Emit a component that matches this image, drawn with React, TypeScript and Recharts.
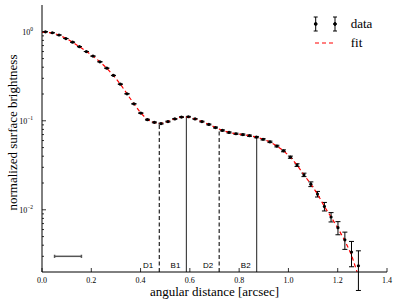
import React from 'react'
import { ComposedChart, Scatter, Line, XAxis, YAxis, ErrorBar, ReferenceLine, Legend, Label } from 'recharts'

// radial profile samples
const distance = [
  0.014, 0.042, 0.069, 0.097, 0.124, 0.152, 0.18, 0.207, 0.235, 0.263,
  0.29, 0.318, 0.345, 0.373, 0.401, 0.428, 0.456, 0.483, 0.511, 0.539,
  0.566, 0.594, 0.621, 0.649, 0.677, 0.704, 0.732, 0.759, 0.787, 0.815,
  0.842, 0.87, 0.897, 0.925, 0.953, 0.98, 1.008, 1.035, 1.063, 1.091,
  1.118, 1.146, 1.173, 1.201, 1.229, 1.256, 1.284,
]
const brightness = [
  1.0, 0.975, 0.92, 0.84, 0.765, 0.68, 0.6, 0.533, 0.46, 0.39,
  0.323, 0.258, 0.201, 0.155, 0.122, 0.103, 0.096, 0.093, 0.098, 0.105,
  0.11, 0.111, 0.105, 0.098, 0.091, 0.084, 0.078, 0.074, 0.0715, 0.07,
  0.068, 0.0656, 0.062, 0.058, 0.052, 0.046, 0.039, 0.0318, 0.0247, 0.0194,
  0.015, 0.0109, 0.0083, 0.0063, 0.0046, 0.00335, 0.00235,
]
const brightnessErr = [
  0.0011, 0.0011, 0.0011, 0.0011, 0.0011, 0.0011, 0.0011, 0.0011, 0.0011, 0.0011,
  0.0011, 0.0011, 0.0011, 0.0011, 0.0011, 0.0011, 0.0011, 0.0011, 0.0011, 0.0011,
  0.0011, 0.0011, 0.0011, 0.0011, 0.0011, 0.0011, 0.0011, 0.0011, 0.0011, 0.0011,
  0.0011, 0.0011, 0.0011, 0.0011, 0.0011, 0.0011, 0.0011, 0.0011, 0.0011, 0.00118,
  0.00108, 0.0012, 0.001, 0.00106, 0.00101, 0.00106, 0.00111,
]

// model curve
const fitDistance = [
  0.0, 0.014, 0.042, 0.069, 0.097, 0.124, 0.152, 0.18, 0.207, 0.235, 0.263,
  0.29, 0.318, 0.345, 0.373, 0.401, 0.428, 0.456, 0.483, 0.511, 0.539,
  0.566, 0.594, 0.621, 0.649, 0.677, 0.704, 0.732, 0.759, 0.787, 0.815,
  0.842, 0.87, 0.897, 0.925, 0.953, 0.98, 1.008, 1.035, 1.063, 1.091,
  1.118, 1.146, 1.173, 1.201, 1.229, 1.256, 1.284,
]
const fitBrightness = [
  0.99, 0.985, 0.97, 0.92, 0.845, 0.765, 0.68, 0.6, 0.533, 0.46, 0.39,
  0.323, 0.258, 0.201, 0.155, 0.122, 0.103, 0.095, 0.093, 0.098, 0.105,
  0.11, 0.11, 0.105, 0.098, 0.091, 0.084, 0.078, 0.074, 0.0715, 0.07,
  0.068, 0.0656, 0.062, 0.058, 0.052, 0.046, 0.039, 0.0318, 0.0247, 0.0194,
  0.015, 0.0109, 0.0083, 0.0062, 0.0045, 0.0031, 0.0018,
]

// component positions (arcsec) and how high the marker reaches
const componentNames = ['D1', 'B1', 'D2', 'B2']
const componentPos = [0.476, 0.586, 0.719, 0.871]
const componentTop = [0.093, 0.11, 0.08, 0.067]

// resolution bar
const beamCenter = 0.1055
const beamHalf = 0.0545
const beamLevel = 0.003

const xTicks = [0, 0.2, 0.4, 0.6, 0.8, 1.0, 1.2, 1.4]
const yTicks = [
  0.003, 0.004, 0.005, 0.006, 0.007, 0.008, 0.009,
  0.01, 0.02, 0.03, 0.04, 0.05, 0.06, 0.07, 0.08, 0.09,
  0.1, 0.2, 0.3, 0.4, 0.5, 0.6, 0.7, 0.8, 0.9, 1,
]

const points = distance.map((x, i) => ({ x, y: brightness[i], err: brightnessErr[i] }))
const fit = fitDistance.map((x, i) => ({ x, y: fitBrightness[i] }))
const beam = [{ x: beamCenter, y: beamLevel, xerr: beamHalf }]

const SERIF = "'Liberation Serif', 'Times New Roman', serif"
const SANS = "'Liberation Sans', Arial, sans-serif"

const isDecade = (v: number) => Math.abs(Math.log10(v) - Math.round(Math.log10(v))) < 1e-6

const BottomTick = ({ x, y, payload }: any) => (
  <g>
    <line x1={x} x2={x} y1={y} y2={y - 4} stroke="#000" strokeWidth={0.8} />
    <text x={x} y={y + 11} textAnchor="middle" fontSize={8} fontFamily={SERIF} fill="#000">
      {payload.value.toFixed(1)}
    </text>
  </g>
)

const TopTick = ({ x, y }: any) => <line x1={x} x2={x} y1={y} y2={y + 4} stroke="#000" strokeWidth={0.8} />

const LeftTick = ({ x, y, payload }: any) => {
  const major = isDecade(payload.value)
  const exp = Math.round(Math.log10(payload.value))
  return (
    <g>
      <line x1={x} x2={x + (major ? 4 : 2)} y1={y} y2={y} stroke="#000" strokeWidth={0.8} />
      {major && (
        <text x={x - 9} y={y + 3.5} textAnchor="end" fontSize={8} fontFamily={SERIF} fill="#000">
          10
          <tspan dy={-4} fontSize={5.5}>{exp < 0 ? `\u2212${-exp}` : `${exp}`}</tspan>
        </text>
      )}
    </g>
  )
}

const RightTick = ({ x, y, payload }: any) => (
  <line x1={x} x2={x - (isDecade(payload.value) ? 4 : 2)} y1={y} y2={y} stroke="#000" strokeWidth={0.8} />
)

const YTitle = ({ viewBox }: any) => {
  const cx = viewBox.x + 12
  const cy = viewBox.y + viewBox.height / 2 - 6
  return (
    <text x={cx} y={cy} transform={`rotate(-90 ${cx} ${cy})`} textAnchor="middle" dominantBaseline="central"
      fontSize={13} fontFamily={SERIF} fill="#000">
      normalized surface brightness
    </text>
  )
}

const LegendBox = ({ payload }: any) => {
  const entries = (payload || []).filter((e: any) => e.value === 'data' || e.value === 'fit')
  return (
    <svg width={80} height={46} style={{ display: 'block' }}>
      {entries.map((e: any, i: number) => {
        const cy = 14 + i * 19
        return (
          <g key={e.value}>
            {e.type === 'line' ? (
              <line x1={10} x2={31} y1={cy} y2={cy} stroke="#ff0000" strokeWidth={1.2} strokeDasharray="4 3" />
            ) : (
              [10.7, 30].map((gx) => (
                <g key={gx} stroke="#000" strokeWidth={1}>
                  <line x1={gx} x2={gx} y1={cy - 7} y2={cy + 7} />
                  <line x1={gx - 2} x2={gx + 2} y1={cy - 7} y2={cy - 7} />
                  <line x1={gx - 2} x2={gx + 2} y1={cy + 7} y2={cy + 7} />
                  <circle cx={gx} cy={cy} r={1.4} fill="#000" />
                </g>
              ))
            )}
            <text x={45.7} y={cy + 4} fontSize={13} fontFamily={SERIF} fill="#000">{e.value}</text>
          </g>
        )
      })}
    </svg>
  )
}

export default function App() {
  return (
    <div style={{ position: 'absolute', left: 0, top: 0, width: 399, height: 308, background: '#fff' }}>
      <ComposedChart width={399} height={308} margin={{ top: 5, right: 12, bottom: 0, left: 0 }}>
        <XAxis dataKey="x" type="number" domain={[0, 1.4]} ticks={xTicks} allowDataOverflow interval={0}
          height={36} tickSize={0} tickMargin={0} tickLine={false} axisLine={{ stroke: '#000' }} tick={<BottomTick />}>
          <Label value="angular distance [arcsec]" position="insideBottom" offset={12} fill="#000"
            style={{ fontFamily: SERIF, fontSize: 13 }} />
        </XAxis>
        <XAxis xAxisId="top" orientation="top" dataKey="x" type="number" domain={[0, 1.4]} ticks={xTicks}
          allowDataOverflow interval={0} height={0} tickSize={0} tickMargin={0} tickLine={false}
          axisLine={{ stroke: '#000' }} tick={<TopTick />} />
        <YAxis dataKey="y" scale="log" domain={[0.002, 2]} ticks={yTicks} allowDataOverflow interval={0}
          width={42} tickSize={0} tickMargin={0} tickLine={false} axisLine={{ stroke: '#000' }} tick={<LeftTick />}>
          <Label content={<YTitle />} />
        </YAxis>
        <YAxis yAxisId="right" orientation="right" dataKey="y" scale="log" domain={[0.002, 2]} ticks={yTicks}
          allowDataOverflow interval={0} width={0} tickSize={0} tickMargin={0} tickLine={false}
          axisLine={{ stroke: '#000' }} tick={<RightTick />} />

        {componentNames.map((name, i) => {
          const dashed = name.startsWith('D')
          return (
            <ReferenceLine key={name} ifOverflow="hidden"
              segment={[{ x: componentPos[i], y: 0.002 }, { x: componentPos[i], y: componentTop[i] }]}
              stroke={dashed ? '#222' : '#444'} strokeWidth={1.2} strokeDasharray={dashed ? '4 2.5' : undefined}
              label={({ viewBox }: any) => (
                <text x={viewBox.x - 6} y={viewBox.y + viewBox.height - 4} textAnchor="end" fontSize={8}
                  fontFamily={SANS} fill="#000">{name}</text>
              )} />
          )
        })}

        <Scatter name="beam" data={beam} legendType="none" isAnimationActive={false} shape={() => <g />}>
          <ErrorBar dataKey="xerr" direction="x" width={1.6} stroke="#555" strokeWidth={1.5} />
        </Scatter>
        <Scatter name="data" data={points} isAnimationActive={false}
          shape={(p: any) => <circle cx={p.cx} cy={p.cy} r={1.6} fill="#000" />}>
          <ErrorBar dataKey="err" direction="y" width={2.5} stroke="#000" strokeWidth={1} />
        </Scatter>
        <Line name="fit" data={fit} dataKey="y" type="linear" stroke="#ff0000" strokeWidth={1.2}
          strokeDasharray="4 3" dot={false} activeDot={false} isAnimationActive={false} />

        <Legend layout="vertical" align="center" verticalAlign="middle" content={<LegendBox />}
          wrapperStyle={{ left: 305, top: 10, width: 80, height: 46 }} />
      </ComposedChart>
    </div>
  )
}
